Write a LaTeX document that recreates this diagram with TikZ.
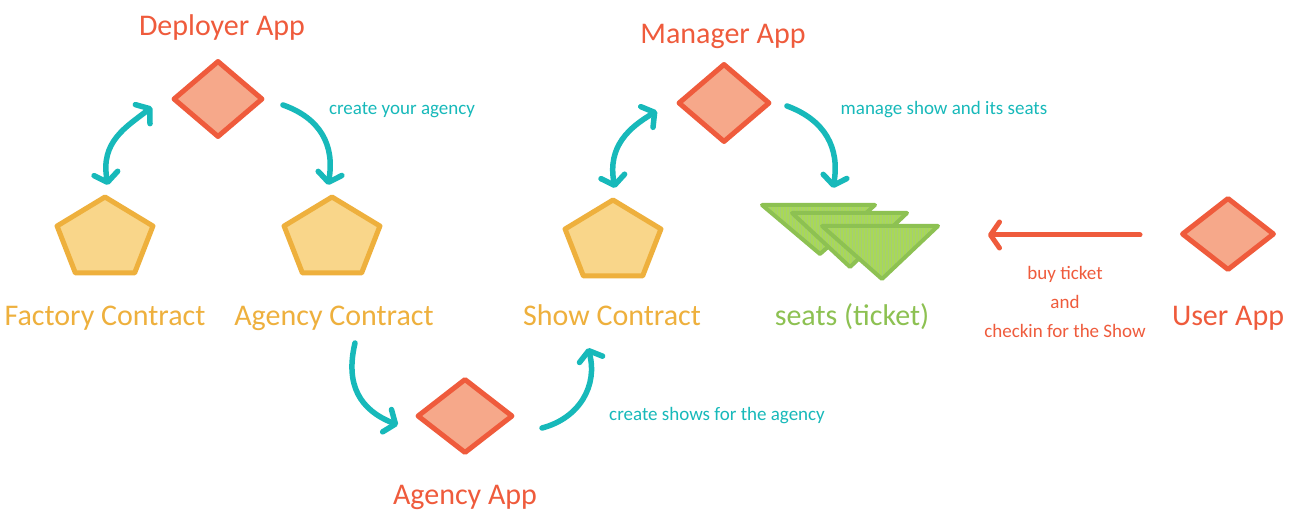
\documentclass[tikz,border=0pt]{standalone}
\usepackage{fontspec}
\setmainfont{Carlito}
\usetikzlibrary{shapes.geometric,arrows.meta,patterns}
\definecolor{redc}{HTML}{EF5B3C}
\definecolor{salmon}{HTML}{F6A88A}
\definecolor{yelc}{HTML}{EEB03D}
\definecolor{yelf}{HTML}{F9D68A}
\definecolor{tealc}{HTML}{17B9BA}
\definecolor{grnc}{HTML}{8DC152}
\definecolor{grnf}{HTML}{A9D957}
\tikzset{
  app/.style={diamond, draw=redc, fill=salmon, line width=5pt, line join=round, inner sep=0pt},
  contract/.style={regular polygon, regular polygon sides=5, draw=yelc, fill=yelf, line width=5pt, line join=round, inner sep=0pt, minimum size=84pt, transform shape},
  seat/.style={draw=grnc, line width=4pt, line join=round, preaction={fill=grnf}, pattern=vertical lines, pattern color=grnc!80},
  biglabel/.style={font=\fontsize{30}{32}\selectfont, anchor=base},
  smalllabel/.style={font=\fontsize{19}{29}\selectfont, align=center},
  tarrow/.style={draw=tealc, line width=5.5pt, line cap=round, {Straight Barb[length=9pt,width=24pt,line cap=round,line join=round]}-{Straight Barb[length=9pt,width=24pt,line cap=round,line join=round]}},
  tarrowone/.style={draw=tealc, line width=5.5pt, line cap=round, -{Straight Barb[length=9pt,width=24pt,line cap=round,line join=round]}},
  rarrow/.style={draw=redc, line width=5pt, line cap=round, -{Straight Barb[length=9pt,width=26pt,line cap=round,line join=round]}}
}
\begin{document}
\begin{tikzpicture}[x=1pt,y=1pt]
\useasboundingbox (0,0) rectangle (1290,520);
\fill[white] (0,0) rectangle (1290,520);

% app diamonds
\node[app, minimum width=90pt, minimum height=77pt] (dep) at (218,421) {};
\node[app, minimum width=92pt, minimum height=79pt] (man) at (724,417) {};
\node[app, minimum width=93pt, minimum height=73pt] (usr) at (1228,286) {};
\node[app, minimum width=96pt, minimum height=75pt] (agapp) at (465,104) {};

% contract pentagons
\begin{scope}[shift={(105,281)}, xscale=1.2]
  \node[contract] (fac) at (0,0) {};
\end{scope}
\begin{scope}[shift={(332,281)}, xscale=1.2]
  \node[contract] (agc) at (0,0) {};
\end{scope}
\begin{scope}[shift={(613,278)}, xscale=1.2]
  \node[contract] (shw) at (0,0) {};
\end{scope}

% seats (tickets)
\draw[seat] (762,315) -- (875,315) -- (820,266) -- cycle;
\draw[seat] (792,307) -- (907,307) -- (850,253) -- cycle;
\draw[seat] (822,294) -- (938,294) -- (882,241) -- cycle;

% labels
\node[biglabel, text=redc] (ldep) at (222,484) {Deployer App};
\node[biglabel, text=redc] (lman) at (723,476) {Manager App};
\node[biglabel, text=redc] (lagapp) at (465,16) {Agency App};
\node[biglabel, text=redc] (lusr) at (1228,195) {User App};
\node[biglabel, text=yelc] (lfac) at (105,195) {Factory Contract};
\node[biglabel, text=yelc] (lagc) at (334,195) {Agency Contract};
\node[biglabel, text=yelc] (lshw) at (612,195) {Show Contract};
\node[biglabel, text=grnc] (lseats) at (852,195) {seats (ticket)};
\node[smalllabel, text=tealc] (l1) at (402,410) {create your agency};
\node[smalllabel, text=tealc] (l2) at (944,410) {manage show and its seats};
\node[smalllabel, text=tealc] (l3) at (717,104) {create shows for the agency};
\node[smalllabel, text=redc] (l4) at (1065,218) {buy ticket\\and\\checkin for the Show};

% connector end points
\coordinate (a1s) at (108,335);
\coordinate (a1e) at (152,413);
\coordinate (a2s) at (283,415);
\coordinate (a2e) at (328,335);
\coordinate (a3s) at (615,332);
\coordinate (a3e) at (657,409);
\coordinate (a4s) at (787,414);
\coordinate (a4e) at (833,332);
\coordinate (a5s) at (355,177);
\coordinate (a5e) at (398,95);
\coordinate (a6s) at (542,92);
\coordinate (a6e) at (588,172);
\coordinate (r1s) at (1140,285);
\coordinate (r1e) at (988,285);

% connectors
\draw[tarrow] (a1s) .. controls (100,378) and (126,393) .. (a1e);
\draw[tarrowone] (a2s) .. controls (320,402) and (335,375) .. (a2e);
\draw[tarrow] (a3s) .. controls (607,374) and (630,393) .. (a3e);
\draw[tarrowone] (a4s) .. controls (825,400) and (840,372) .. (a4e);
\draw[tarrowone] (a5s) .. controls (345,135) and (360,110) .. (a5e);
\draw[tarrowone] (a6s) .. controls (580,102) and (598,135) .. (a6e);
\draw[rarrow] (r1s) -- (r1e);
\end{tikzpicture}
\end{document}
